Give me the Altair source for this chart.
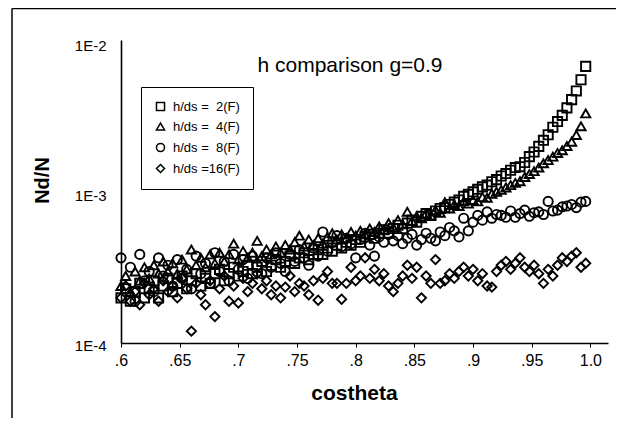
import altair as alt
import pandas as pd

costheta = [0.600, 0.604, 0.608, 0.612, 0.616, 0.620, 0.624, 0.628, 0.632, 0.636,
            0.640, 0.644, 0.648, 0.652, 0.656, 0.660, 0.664, 0.668, 0.672, 0.676,
            0.680, 0.684, 0.688, 0.692, 0.696, 0.700, 0.704, 0.708, 0.712, 0.716,
            0.720, 0.724, 0.728, 0.732, 0.736, 0.740, 0.744, 0.748, 0.752, 0.756,
            0.760, 0.764, 0.768, 0.772, 0.776, 0.780, 0.784, 0.788, 0.792, 0.796,
            0.800, 0.804, 0.808, 0.812, 0.816, 0.820, 0.824, 0.828, 0.832, 0.836,
            0.840, 0.844, 0.848, 0.852, 0.856, 0.860, 0.864, 0.868, 0.872, 0.876,
            0.880, 0.884, 0.888, 0.892, 0.896, 0.900, 0.904, 0.908, 0.912, 0.916,
            0.920, 0.924, 0.928, 0.932, 0.936, 0.940, 0.944, 0.948, 0.952, 0.956,
            0.960, 0.964, 0.968, 0.972, 0.976, 0.980, 0.984, 0.988, 0.992, 0.996]

# Nd/N in units of 1E-4
h2 = [2.0, 2.3, 1.9, 2.2, 2.5, 2.0, 2.3, 2.6, 2.0, 2.4,
      2.7, 2.2, 2.5, 2.8, 2.3, 2.6, 2.9, 2.4, 2.7, 2.5,
      2.9, 3.1, 2.6, 2.9, 3.2, 2.8, 3.0, 3.3, 2.9, 3.2,
      3.5, 3.0, 3.3, 3.6, 3.2, 3.5, 3.8, 3.4, 3.7, 4.0,
      3.6, 3.9, 4.2, 3.9, 4.3, 4.1, 4.5, 4.3, 4.7, 4.5,
      4.9, 4.7, 5.1, 5.3, 5.0, 5.4, 5.7, 5.4, 5.8, 6.1,
      5.8, 6.3, 6.6, 6.4, 7.0, 7.3, 7.1, 7.6, 7.9, 8.0,
      8.4, 8.7, 9.0, 9.5, 9.8, 10.2, 10.6, 11.0, 11.3, 11.9,
      12.3, 13.0, 13.5, 14.2, 14.8, 15.0, 16.0, 17.5, 18.8, 20.5,
      22.5, 24.5, 27.5, 30.0, 33.0, 37.0, 42.0, 48.0, 57.0, 70.0]

h4 = [2.4, 2.8, 2.2, 3.0, 2.6, 3.2, 2.7, 3.3, 2.9, 3.5,
      3.0, 3.4, 2.9, 3.6, 3.1, 4.2, 3.3, 3.7, 3.2, 3.9,
      3.4, 4.0, 3.5, 3.9, 4.6, 3.6, 4.1, 3.7, 4.0, 4.8,
      3.8, 4.2, 3.9, 4.4, 4.0, 4.5, 4.2, 4.7, 5.2, 4.4,
      4.9, 4.5, 5.0, 4.6, 5.1, 5.4, 4.9, 5.3, 5.0, 5.5,
      5.2, 5.6, 5.3, 5.8, 5.5, 6.0, 5.7, 6.3, 5.9, 6.6,
      6.2, 7.5, 6.5, 7.0, 6.8, 7.3, 7.1, 7.7, 7.4, 8.7,
      7.9, 8.4, 8.2, 8.8, 8.5, 9.0, 8.8, 9.4, 9.3, 9.9,
      10.2, 10.5, 10.9, 11.3, 11.7, 12.0, 12.8, 13.4, 14.0, 14.8,
      15.8, 16.6, 17.5, 18.5, 19.3, 20.6, 22.0, 24.4, 27.9, 34.0]

h8 = [3.7, 2.3, 3.2, 1.9, 3.9, 2.6, 3.0, 2.2, 3.7, 2.8,
      3.3, 2.4, 3.6, 2.7, 3.1, 2.3, 3.8, 2.9, 3.4, 2.5,
      4.0, 3.0, 3.5, 2.6, 3.9, 3.1, 3.6, 2.7, 3.8, 3.3,
      2.9, 3.7, 3.2, 4.0, 3.4, 3.0, 3.9, 3.5, 4.2, 3.7,
      3.3, 4.3, 3.8, 5.5, 4.1, 4.7, 5.2, 4.4, 5.0, 4.6,
      3.7, 4.9, 5.4, 4.5, 3.8, 5.1, 4.7, 5.3, 4.8, 5.2,
      4.6, 5.0, 5.3, 4.5, 4.9, 5.4, 5.0, 4.8, 5.5, 5.2,
      5.9, 5.6, 5.1, 6.8, 5.6, 6.4, 7.1, 6.6, 7.5, 6.8,
      7.2, 7.1, 6.9, 7.6, 6.9, 7.3, 7.7, 7.0, 7.4, 7.5,
      7.2, 8.8, 7.6, 7.7, 8.1, 8.2, 8.4, 8.0, 8.7, 8.8]

h16 = [2.0, 2.4, 1.9, 2.2, 1.8, 2.5, 2.1, 2.3, 1.9, 2.6,
       2.2, 2.4, 2.0, 2.7, 2.3, 1.2, 2.5, 2.1, 1.8, 2.6,
       1.5, 2.3, 2.8, 1.9, 2.4, 1.85, 2.7, 2.2, 2.5, 2.9,
       2.3, 2.6, 2.1, 2.4, 2.0, 2.36, 2.8, 2.2, 2.5, 2.4,
       2.1, 2.6, 1.93, 2.7, 3.0, 2.5, 2.5, 1.96, 2.5, 3.2,
       2.6, 2.8, 3.7, 2.7, 3.1, 2.6, 2.9, 2.4, 2.2, 2.5,
       2.8, 3.3, 2.7, 3.2, 2.0, 2.8, 2.5, 3.6, 2.5, 2.6,
       2.9, 2.7, 3.0, 3.2, 2.8, 3.1, 2.6, 2.9, 2.4, 2.36,
       3.0, 3.3, 3.5, 3.1, 3.4, 3.7, 3.2, 3.0, 3.3, 2.9,
       2.5, 3.1, 2.8, 3.3, 3.7, 3.5, 3.8, 4.0, 3.2, 3.4]

NB = "\u00a0"
series_labels = [f"h/ds{NB}={NB}{NB}2(F)", f"h/ds{NB}={NB}{NB}4(F)",
                 f"h/ds{NB}={NB}{NB}8(F)", f"h/ds{NB}=16(F)"]
shapes = ["square", "triangle-up", "circle", "diamond"]
x_ticks = [0.6, 0.65, 0.7, 0.75, 0.8, 0.85, 0.9, 0.95, 1.0]
y_ticks = [1e-4, 1e-3, 1e-2]
title_text = "h comparison g=0.9"

rows = []
for lab, vals in zip(series_labels, [h2, h4, h8, h16]):
    for c, v in zip(costheta, vals):
        rows.append({"costheta": c, "NdN": v * 1e-4, "series": lab})
df = pd.DataFrame(rows)

FONT = "Liberation Sans"
W, H = 487, 303

points = alt.Chart(df).mark_point(filled=False, size=85, strokeWidth=1.9, opacity=1).encode(
    x=alt.X("costheta:Q",
            scale=alt.Scale(domain=[0.6, 1.015], nice=False, zero=False),
            axis=alt.Axis(values=x_ticks,
                          labelExpr="datum.value >= 1 ? '1.0' : replace(format(datum.value, '.2~f'), '0.', '.')",
                          title="costheta", titleFontSize=21, titleFontWeight="bold",
                          titleX=233, titleY=50, titleBaseline="middle",
                          labelFontSize=16, labelPadding=5, tickSize=4, labelFlush=False)),
    y=alt.Y("NdN:Q",
            scale=alt.Scale(type="log", domain=[1e-4, 0.0105], nice=False),
            axis=alt.Axis(values=y_ticks,
                          labelExpr="'1E' + round(log(datum.value) / LN10)",
                          title="Nd/N", titleFontSize=20, titleFontWeight="bold",
                          titleX=-79, titleY=140, titleBaseline="middle",
                          labelFontSize=15, labelPadding=15, ticks=False, labelFlush=False,
                          labelOffset=2)),
    shape=alt.Shape("series:N",
                    scale=alt.Scale(domain=series_labels, range=shapes),
                    legend=alt.Legend(title=None, orient="none", legendX=20, legendY=47,
                                      strokeColor="black", fillColor="white", padding=13,
                                      labelFontSize=13, labelFont=FONT, labelColor="black",
                                      labelOffset=6, rowPadding=6,
                                      symbolStrokeColor="black", symbolFillColor="white",
                                      symbolStrokeWidth=1.5, symbolSize=65)),
    color=alt.value("black"),
)

one = pd.DataFrame({"k": [0]})
title = alt.Chart(one).mark_text(fontSize=21, font=FONT, color="black", align="center",
                                 baseline="middle").encode(
    x=alt.value(229), y=alt.value(26), text=alt.value(title_text))

frame_left = alt.Chart(one).mark_rule(color="black", strokeWidth=1.5).encode(
    x=alt.value(-109), y=alt.value(-31.5), y2=alt.value(H + 75))
frame_top = alt.Chart(one).mark_rule(color="black", strokeWidth=1.5).encode(
    x=alt.value(-109), x2=alt.value(W + 8), y=alt.value(-31.5))

chart = alt.layer(frame_left, frame_top, title, points).properties(
    width=W, height=H,
    padding={"left": 113, "top": 32, "right": 8, "bottom": 75},
    autosize=alt.AutoSizeParams(type="none"),
    background="white",
).configure_axis(
    domainColor="black", domainWidth=1.6, tickColor="black", labelColor="black",
    titleColor="black", labelFont=FONT, titleFont=FONT, grid=False,
).configure_view(strokeWidth=0)

chart.save("out.html", embed_options={"renderer": "svg", "actions": False})
